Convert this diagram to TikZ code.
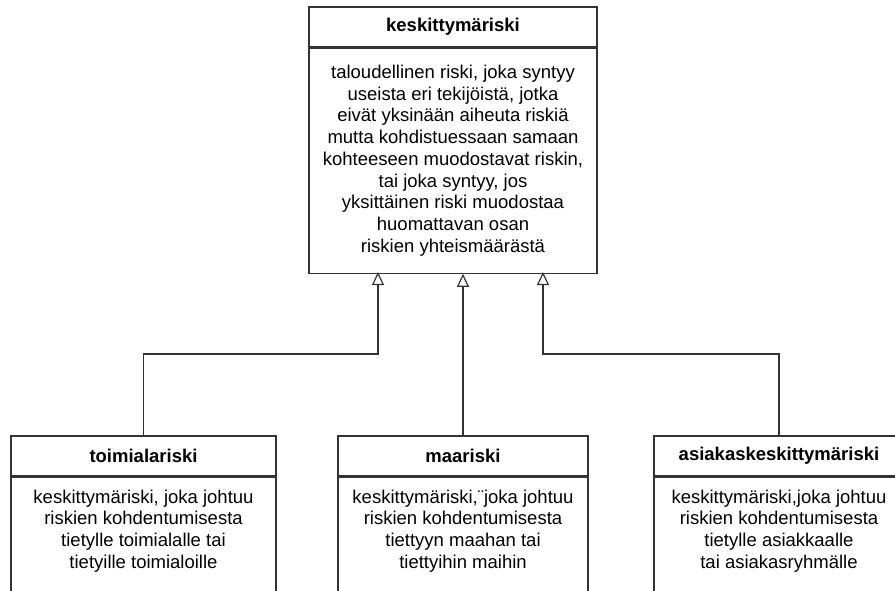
\documentclass[tikz,border=0pt]{standalone}
\usepackage{fontspec}
\setmainfont{Liberation Sans}
\usetikzlibrary{arrows.meta,positioning}

\tikzset{
  head/.style={draw=black!80, line width=1.2pt, minimum height=40pt, inner sep=0pt,
    font=\fontsize{18.5}{21.75}\selectfont\bfseries},
  body/.style={draw=black!80, line width=1.2pt, inner sep=0pt, anchor=north},
  txt/.style={align=center, inner sep=0pt, font=\fontsize{18.5}{21.75}\selectfont},
  inh/.style={draw=black!80, line width=1.2pt, -{Triangle[open, length=13pt, width=12pt]}}
}

\begin{document}
\begin{tikzpicture}[x=1pt, y=-1pt]
  \useasboundingbox (0,0) rectangle (895,591);
  \clip (0,0) rectangle (895,591);
  \fill[white] (0,0) rectangle (895,591);

  % yläluokka
  \node[head, minimum width=288pt] (kesk) at (453,27) {keskittymäriski};
  \node[body, txt, minimum width=288pt, minimum height=225pt] (keskb) at (kesk.south)
    {taloudellinen riski, joka syntyy\\useista eri tekijöistä, jotka\\eivät yksinään aiheuta riskiä\\mutta kohdistuessaan samaan\\kohteeseen muodostavat riskin,\\tai joka syntyy, jos\\yksittäinen riski muodostaa\\huomattavan osan\\riskien yhteismäärästä};

  % aliluokat
  \node[head, minimum width=265pt] (toim) at (143.5,456) {toimialariski};
  \node[body, minimum width=265pt, minimum height=170pt] (toimb) at (toim.south) {};
  \node[txt, below=13pt of toimb.north] (toimt)
    {keskittymäriski, joka johtuu\\riskien kohdentumisesta\\tietylle toimialalle tai\\tietyille toimialoille};

  \node[head, minimum width=250pt] (maar) at (463,456) {maariski};
  \node[body, minimum width=250pt, minimum height=170pt] (maarb) at (maar.south) {};
  \node[txt, below=13pt of maarb.north] (maart)
    {keskittymäriski,¨joka johtuu\\riskien kohdentumisesta\\tiettyyn maahan tai\\tiettyihin maihin};

  \node[head, minimum width=250pt] (asia) at (779,456) {asiakaskeskittymäriski};
  \node[body, minimum width=250pt, minimum height=170pt] (asiab) at (asia.south) {};
  \node[txt, below=13pt of asiab.north] (asiat)
    {keskittymäriski,joka johtuu\\riskien kohdentumisesta\\tietylle asiakkaalle\\tai asiakasryhmälle};

  % periytymisnuolet
  \coordinate (lvl) at (0,354);
  \coordinate (t1) at (378,272);
  \coordinate (t3) at (543,272);
  \draw[inh] (toim.north) |- (lvl -| t1) -- (t1);
  \draw[inh] (maar.north) -- (maar.north |- keskb.south);
  \draw[inh] (asia.north) |- (lvl -| t3) -- (t3);
\end{tikzpicture}
\end{document}
